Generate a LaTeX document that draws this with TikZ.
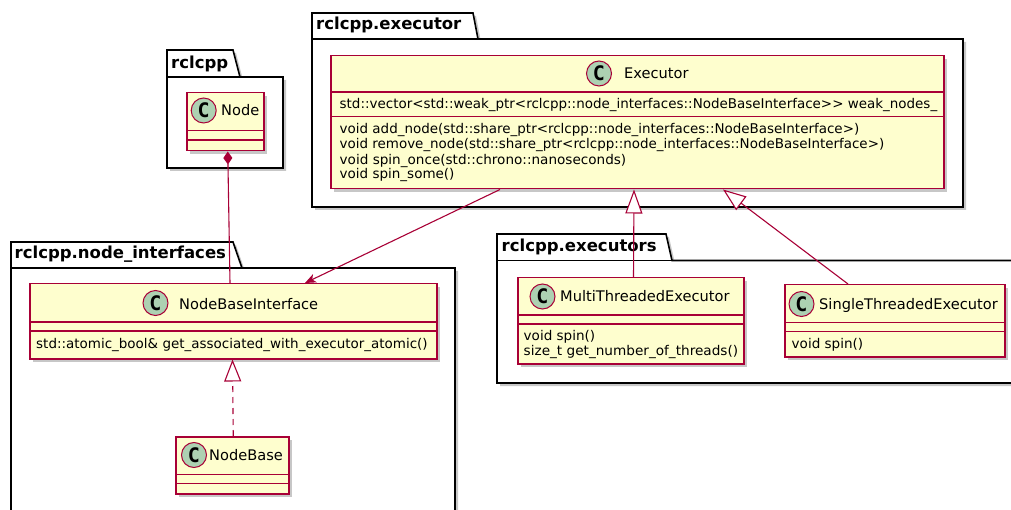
\documentclass[tikz,border=0pt]{standalone}
\usepackage{fontspec}
\usepackage{graphicx}
\setmainfont{DejaVu Sans}
\newfontfamily\cfont{DejaVu Sans Mono}
\usetikzlibrary{arrows.meta,shadows,calc}
\definecolor{clsfill}{HTML}{FEFECE}
\definecolor{clsborder}{HTML}{A80036}
\definecolor{circfill}{HTML}{ADD1B2}
\newcommand\fitw[2]{\resizebox{#1pt}{\height}{#2}}
\tikzset{
  shad/.style={drop shadow={shadow xshift=3pt,shadow yshift=-3pt,fill=black!55,opacity=.4}},
  pkg/.style={draw=black,line width=1.6pt,fill=white,shad},
  pkglabel/.style={anchor=base west,inner sep=0pt,font=\fontsize{16.5}{18}\selectfont\bfseries},
  cls/.style={draw=clsborder,line width=1.5pt,fill=clsfill,anchor=north west,inner sep=0pt,shad},
  sep/.style={draw=clsborder,line width=1.5pt},
  circ/.style={circle,draw=clsborder,line width=1pt,fill=circfill,minimum size=25pt,inner sep=0pt,font=\cfont\bfseries\fontsize{20}{20}\selectfont},
  cname/.style={anchor=base west,inner sep=0pt,font=\fontsize{14.6}{16}\selectfont},
  member/.style={anchor=base west,inner sep=0pt,font=\fontsize{13.4}{15}\selectfont},
  rel/.style={draw=clsborder,line width=1.1pt},
  opentri/.style={-{Triangle[length=#1,width=17pt,fill=white]}},
}
\begin{document}
\begin{tikzpicture}[x=1pt,y=-1pt]
\useasboundingbox (0,0) rectangle (1011,510);
\clip (0,0) rectangle (1011,510);
% ---------- packages ----------
\draw[pkg] (167,77) -- (167,50) -- (233,50) -- (240,77) -- (283,77) -- (283,168) -- (167,168) -- cycle;
\draw[black,line width=1.6pt] (167,77) -- (240,77);
\node[pkglabel] (p1) at (171,68.3) {rclcpp};

\draw[pkg] (312,39) -- (312,13) -- (473,13) -- (478,39) -- (963,39) -- (963,207) -- (312,207) -- cycle;
\draw[black,line width=1.6pt] (312,39) -- (478,39);
\node[pkglabel] (p2) at (316,30) {rclcpp.executor};

\draw[pkg] (11,268) -- (11,242) -- (233,242) -- (242,268) -- (455,268) -- (455,530) -- (11,530) -- cycle;
\draw[black,line width=1.6pt] (11,268) -- (242,268);
\node[pkglabel] (p3) at (14.5,259) {rclcpp.node\_interfaces};

\draw[pkg] (497,260.5) -- (497,234) -- (666,234) -- (672,260.5) -- (1030,260.5) -- (1030,383) -- (497,383) -- cycle;
\draw[black,line width=1.6pt] (497,260.5) -- (672,260.5);
\node[pkglabel] (p4) at (501.5,252) {rclcpp.executors};

% ---------- classes ----------
% Node
\node[cls,minimum width=77pt,minimum height=58pt] (nodec) at (186,92) {};
\draw[sep] (186,130.5) -- (263,130.5);
\draw[sep] (186,140) -- (263,140);
\node[circ] (nodec-c) at (203.7,110.5) {C};
\node[cname] (nodec-n) at (221,116) {Node};

% Executor
\node[cls,minimum width=613pt,minimum height=133pt] (exec) at (330,55) {};
\draw[sep] (330,92) -- (943,92);
\draw[sep] (330,116.5) -- (943,116.5);
\node[circ] (exec-c) at (599,73.5) {C};
\node[cname] (exec-n) at (624,78.3) {Executor};
\node[member] (exec-a) at (339.5,109) {\fitw{597.5}{std::vector<std::weak\_ptr<rclcpp::node\_interfaces::NodeBaseInterface>{}> weak\_nodes\_}};
\node[member] (exec-m1) at (339.5,133.3) {\fitw{519.5}{void add\_node(std::share\_ptr<rclcpp::node\_interfaces::NodeBaseInterface>)}};
\node[member] (exec-m2) at (339.5,148.8) {\fitw{544.5}{void remove\_node(std::share\_ptr<rclcpp::node\_interfaces::NodeBaseInterface>)}};
\node[member] (exec-m3) at (339.5,164.2) {\fitw{286.5}{void spin\_once(std::chrono::nanoseconds)}};
\node[member] (exec-m4) at (339.5,179) {\fitw{114.8}{void spin\_some()}};

% NodeBaseInterface
\node[cls,minimum width=407pt,minimum height=75pt] (nbi) at (29,283) {};
\draw[sep] (29,322) -- (436,322);
\draw[sep] (29,331) -- (436,331);
\node[circ] (nbi-c) at (155.5,303) {C};
\node[cname] (nbi-n) at (179,309) {NodeBaseInterface};
\node[member] (nbi-m1) at (36,348.3) {\fitw{391.5}{std::atomic\_bool\& get\_associated\_with\_executor\_atomic()}};

% NodeBase
\node[cls,minimum width=113pt,minimum height=57pt] (nodebase) at (175,436) {};
\draw[sep] (175,474.3) -- (288,474.3);
\draw[sep] (175,483.3) -- (288,483.3);
\node[circ] (nodebase-c) at (194,455) {C};
\node[cname] (nodebase-n) at (209,460.3) {NodeBase};

% MultiThreadedExecutor
\node[cls,minimum width=226pt,minimum height=86pt] (multi) at (517,277) {};
\draw[sep] (517,315) -- (743,315);
\draw[sep] (517,324) -- (743,324);
\node[circ] (multi-c) at (542.5,296.5) {C};
\node[cname] (multi-n) at (560,301.5) {MultiThreadedExecutor};
\node[member] (multi-m1) at (523.5,340.2) {\fitw{71.5}{void spin()}};
\node[member] (multi-m2) at (523.5,355.7) {\fitw{214.5}{size\_t get\_number\_of\_threads()}};

% SingleThreadedExecutor
\node[cls,minimum width=220pt,minimum height=72pt] (single) at (784,284) {};
\draw[sep] (784,322.3) -- (1004,322.3);
\draw[sep] (784,331.7) -- (1004,331.7);
\node[circ] (single-c) at (801.5,304) {C};
\node[cname] (single-n) at (819,309.3) {SingleThreadedExecutor};
\node[member] (single-m1) at (791.5,348.3) {\fitw{71.5}{void spin()}};

% ---------- relations ----------
\draw[rel,{Diamond[length=13pt,width=9pt]}-] ($(nodec.south)+(2.5,0)$) -- ($(nbi.north west)+(201,0)$);
\draw[rel,-{Stealth[length=11pt,width=9pt,inset=3pt]}] ($(exec.south west)+(170,0)$) -- ($(nbi.north west)+(276,0)$);
\draw[rel,opentri=24pt] ($(multi.north west)+(116.5,0)$) -- ($(exec.south west)+(304,0)$);
\draw[rel,opentri=23pt] ($(single.north west)+(64,0)$) -- ($(exec.south west)+(393,0)$);
\draw[rel,dash pattern=on 6pt off 5pt,opentri=22pt] ($(nodebase.north)+(1,0)$) -- ($(nbi.south west)+(203.5,0)$);
\end{tikzpicture}
\end{document}
